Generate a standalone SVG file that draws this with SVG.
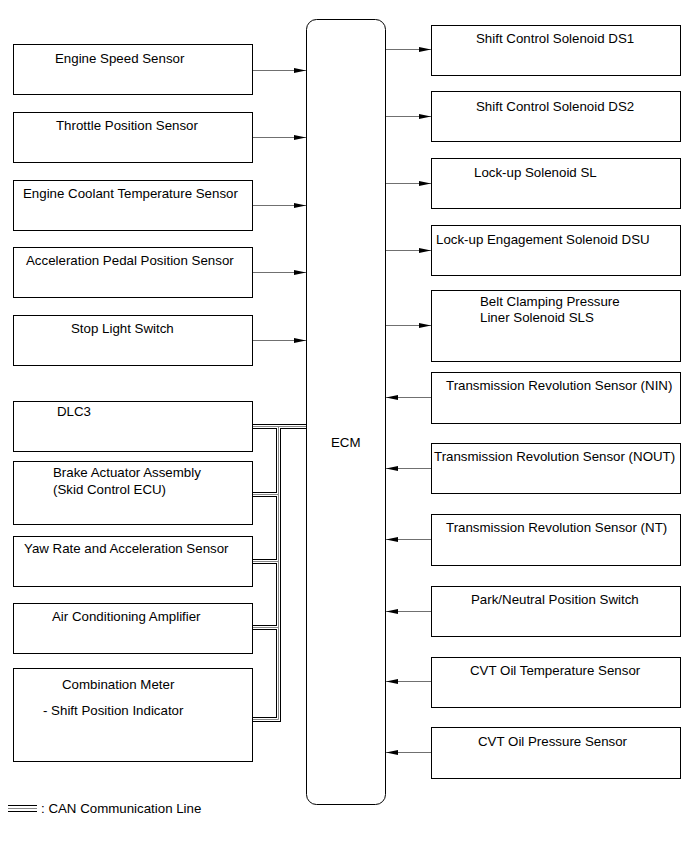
<svg xmlns="http://www.w3.org/2000/svg" width="691" height="855" viewBox="0 0 691 855">
<style>
.box{fill:#fff;stroke:#000;stroke-width:1}
.t{font-family:"Liberation Sans",Arial,sans-serif;font-size:13.3px;fill:#000}
.ar{stroke:#707070;stroke-width:1;fill:none;marker-end:url(#ah)}
.b1{fill:none;stroke:#000;stroke-width:5}
.b2{fill:none;stroke:#fff;stroke-width:3}
.b3{fill:none;stroke:#888;stroke-width:1}
</style>
<defs>
<marker id="ah" viewBox="0 0 12 5" refX="12" refY="2.5" markerWidth="12" markerHeight="5" markerUnits="userSpaceOnUse" orient="auto">
<path d="M0,0 L12,2.5 L0,5 Z" fill="#000"/>
</marker>
</defs>
<rect width="691" height="855" fill="#fff"/>

<g id="ecm"><rect class="box" x="306.5" y="19.5" width="79" height="785" rx="10"/><text class="t" x="331" y="447">ECM</text></g>

<g id="engine-speed"><rect class="box" x="13.5" y="44.5" width="239" height="50"/><text class="t" x="55" y="63">Engine Speed Sensor</text></g>
<g id="throttle"><rect class="box" x="13.5" y="112.5" width="239" height="50"/><text class="t" x="56" y="130">Throttle Position Sensor</text></g>
<g id="coolant"><rect class="box" x="13.5" y="180.5" width="239" height="50"/><text class="t" x="23" y="198">Engine Coolant Temperature Sensor</text></g>
<g id="accel"><rect class="box" x="13.5" y="247.5" width="239" height="50"/><text class="t" x="26" y="265">Acceleration Pedal Position Sensor</text></g>
<g id="stop"><rect class="box" x="13.5" y="315.5" width="239" height="50"/><text class="t" x="71" y="333">Stop Light Switch</text></g>
<g id="dlc3"><rect class="box" x="13.5" y="401.5" width="239" height="50"/><text class="t" x="57" y="416">DLC3</text></g>
<g id="brake"><rect class="box" x="13.5" y="461.5" width="239" height="63"/><text class="t" x="53" y="477">Brake Actuator Assembly</text><text class="t" x="53" y="494">(Skid Control ECU)</text></g>
<g id="yaw"><rect class="box" x="13.5" y="536.5" width="239" height="50"/><text class="t" x="24" y="553">Yaw Rate and Acceleration Sensor</text></g>
<g id="aircon"><rect class="box" x="13.5" y="603.5" width="239" height="50"/><text class="t" x="52" y="621">Air Conditioning Amplifier</text></g>
<g id="combo"><rect class="box" x="13.5" y="668.5" width="239" height="93"/><text class="t" x="62" y="689">Combination Meter</text><text class="t" x="43" y="715">- Shift Position Indicator</text></g>

<g id="ds1"><rect class="box" x="431.5" y="25.5" width="249" height="50"/><text class="t" x="476" y="43">Shift Control Solenoid DS1</text></g>
<g id="ds2"><rect class="box" x="431.5" y="91.5" width="249" height="50"/><text class="t" x="476" y="111">Shift Control Solenoid DS2</text></g>
<g id="sl"><rect class="box" x="431.5" y="158.5" width="249" height="50"/><text class="t" x="474" y="177">Lock-up Solenoid SL</text></g>
<g id="dsu"><rect class="box" x="431.5" y="225.5" width="249" height="50"/><text class="t" x="436" y="244">Lock-up Engagement Solenoid DSU</text></g>
<g id="sls"><rect class="box" x="431.5" y="290.5" width="249" height="71"/><text class="t" x="480" y="306">Belt Clamping Pressure</text><text class="t" x="480" y="322">Liner Solenoid SLS</text></g>
<g id="nin"><rect class="box" x="431.5" y="372.5" width="249" height="51"/><text class="t" x="446" y="390">Transmission Revolution Sensor (NIN)</text></g>
<g id="nout"><rect class="box" x="431.5" y="443.5" width="249" height="50"/><text class="t" x="434" y="461">Transmission Revolution Sensor (NOUT)</text></g>
<g id="nt"><rect class="box" x="431.5" y="514.5" width="249" height="51"/><text class="t" x="446" y="532">Transmission Revolution Sensor (NT)</text></g>
<g id="pnp"><rect class="box" x="431.5" y="586.5" width="249" height="50"/><text class="t" x="471" y="604">Park/Neutral Position Switch</text></g>
<g id="cvt-temp"><rect class="box" x="431.5" y="657.5" width="249" height="50"/><text class="t" x="470" y="675">CVT Oil Temperature Sensor</text></g>
<g id="cvt-press"><rect class="box" x="431.5" y="727.5" width="249" height="51"/><text class="t" x="478" y="746">CVT Oil Pressure Sensor</text></g>

<g id="connectors">
<path class="ar" d="M253,70.5 H306"/>
<path class="ar" d="M253,137.5 H306"/>
<path class="ar" d="M253,205.5 H306"/>
<path class="ar" d="M253,272.5 H306"/>
<path class="ar" d="M253,340.5 H306"/>
<path class="ar" d="M386,49.5 H431"/>
<path class="ar" d="M386,116.5 H431"/>
<path class="ar" d="M386,183.5 H431"/>
<path class="ar" d="M386,250.5 H431"/>
<path class="ar" d="M386,325.5 H431"/>
<path class="ar" d="M431,397.5 H386"/>
<path class="ar" d="M431,468.5 H386"/>
<path class="ar" d="M431,539.5 H386"/>
<path class="ar" d="M431,611.5 H386"/>
<path class="ar" d="M431,681.5 H386"/>
<path class="ar" d="M431,752.5 H386"/>
<g id="can-bus">
<path class="b1" d="M253,426.5 H306 M278.5,426.5 V719.5 H253 M278.5,494.5 H253 M278.5,561.5 H253 M278.5,627.5 H253"/>
<path class="b2" d="M253,426.5 H306 M278.5,426.5 V719.5 H253 M278.5,494.5 H253 M278.5,561.5 H253 M278.5,627.5 H253"/>
<path class="b3" d="M253,426.5 H306 M278.5,426.5 V719.5 H253 M278.5,494.5 H253 M278.5,561.5 H253 M278.5,627.5 H253"/>
</g>
</g>

<g id="legend">
<line x1="8" y1="805.5" x2="37" y2="805.5" stroke="#000" stroke-width="1"/>
<line x1="8" y1="808.5" x2="37" y2="808.5" stroke="#888" stroke-width="1"/>
<line x1="8" y1="811.5" x2="37" y2="811.5" stroke="#000" stroke-width="1"/>
<text class="t" x="41" y="813">: CAN Communication Line</text>
</g>
</svg>
